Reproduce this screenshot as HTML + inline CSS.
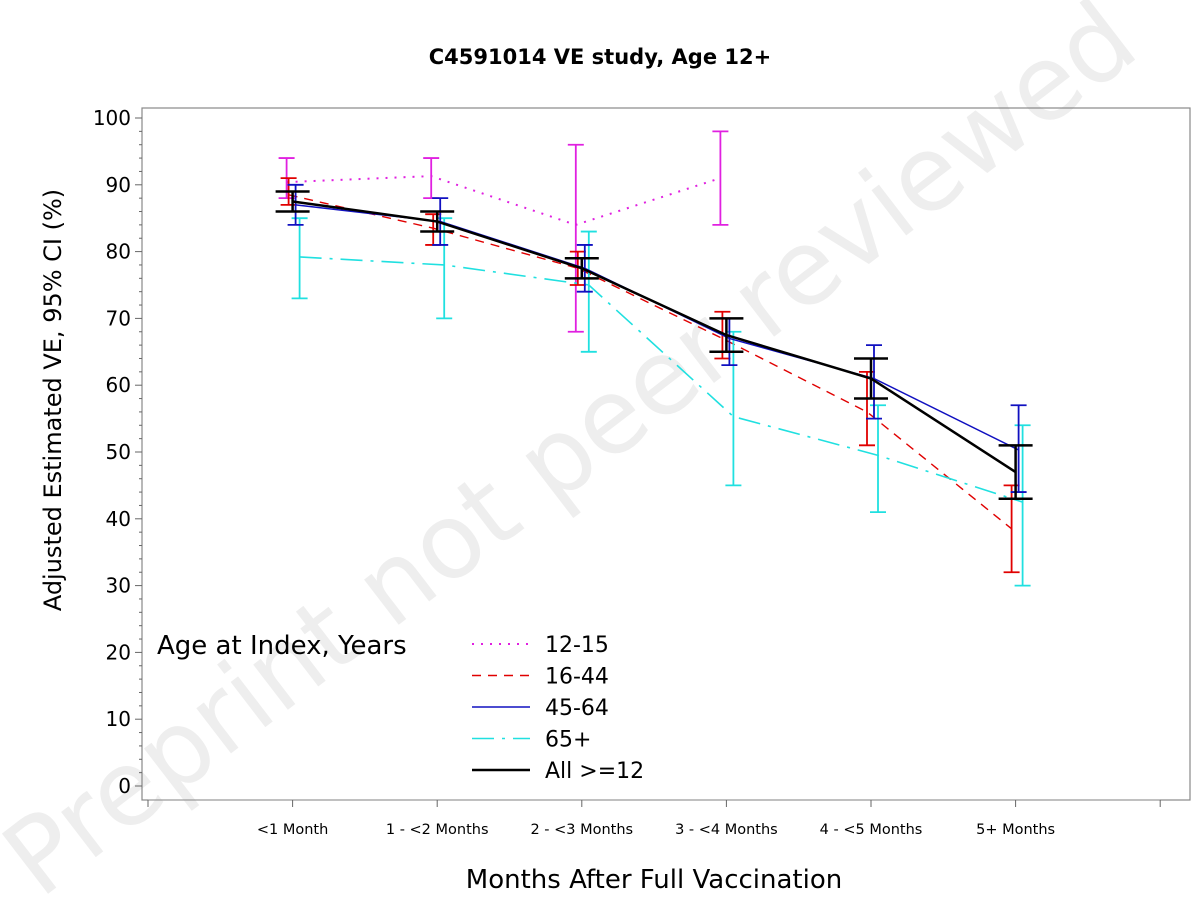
<!DOCTYPE html>
<html><head><meta charset="utf-8"><style>
body{margin:0;background:#fff;}
svg{display:block;font-family:"DejaVu Sans","Liberation Sans",sans-serif;}
</style></head><body>
<svg id="chart" width="1200" height="914" viewBox="0 0 1200 914" xmlns="http://www.w3.org/2000/svg">
<text x="0" y="0" transform="translate(40,900) rotate(-37.5)" font-size="104" fill="#eeeeee" font-family="DejaVu Sans,sans-serif">Preprint not peer reviewed</text>
<text x="600" y="64" text-anchor="middle" font-size="21" font-weight="bold">C4591014 VE study, Age 12+</text>
<rect x="142" y="108" width="1048" height="692" fill="none" stroke="#888" stroke-width="1.2"/>
<g id="yaxis"></g>
<g id="xaxis"></g>
<g id="series"></g>
<text transform="translate(61,400) rotate(-90)" text-anchor="middle" font-size="24">Adjusted Estimated VE, 95% CI (%)</text>
<text x="654" y="888" text-anchor="middle" font-size="26">Months After Full Vaccination</text>
<g>
<text x="157" y="654" font-size="26">Age at Index, Years</text>
<g id="legend-items"></g>
</g>
</svg>
<script>
const categories = ["<1 Month","1 - <2 Months","2 - <3 Months","3 - <4 Months","4 - <5 Months","5+ Months"];
const yTicks = [0,10,20,30,40,50,60,70,80,90,100];
const est1215 = [90.4,91.3,84,91];
const lo1215 = [88,88,68,84];
const hi1215 = [94,94,96,98];
const est1644 = [88.5,83.5,77.5,67,56,38.5];
const lo1644 = [87,81,75,64,51,32];
const hi1644 = [91,85.6,80,71,62,45];
const est4564 = [87,84.5,77.5,67,61,50.3];
const lo4564 = [84,81,74,63,55,44];
const hi4564 = [90,88,81,70,66,57];
const est65 = [79.2,78,75,55.3,49.5,42.5];
const lo65 = [73,70,65,45,41,30];
const hi65 = [85,85,83,68,57,54];
const estAll = [87.5,84.5,77.5,67.5,61,47];
const loAll = [86,83,76,65,58,43];
const hiAll = [89,86,79,70,64,51];

const NS="http://www.w3.org/2000/svg";
const yS = v => 786 - 6.68*v;
const xS = i => 148 + 144.6*(i+1);
function mk(tag, attrs, parent){const e=document.createElementNS(NS,tag);for(const k in attrs)e.setAttribute(k,attrs[k]);parent.appendChild(e);return e;}
const yg=document.getElementById('yaxis'), xg=document.getElementById('xaxis'), sg=document.getElementById('series');
for(let v=0; v<=100; v+=2){
  const t=mk('line',{x1:142,x2:v%10===0?135:139,y1:yS(v),y2:yS(v),stroke:'#666','stroke-width':1},yg);
  
  
}
yTicks.forEach(v=>{
  const t=mk('text',{x:131,y:yS(v)+7,'text-anchor':'end','font-size':20},yg);
  t.textContent=v;
  
  
});
mk('line',{x1:148,x2:1160,y1:800,y2:800,stroke:'#999','stroke-width':1},xg);
for(let i=-1;i<=categories.length;i++){
  const t=mk('line',{x1:xS(i),x2:xS(i),y1:800,y2:807,stroke:'#666','stroke-width':1},xg);
  
  
}
categories.forEach((c,i)=>{
  const t=mk('text',{x:xS(i),y:834,'text-anchor':'middle','font-size':14.5},xg);
  t.textContent=c;
  
  
});
const styles=[
 {label:'12-15',est:est1215,lo:lo1215,hi:hi1215,color:'#e020e0',dash:'2,7',w:2,off:-6,cap:8,name:'series-12-15'},
 {label:'16-44',est:est1644,lo:lo1644,hi:hi1644,color:'#e00000',dash:'9,7',w:1.4,off:-4,cap:8,name:'series-16-44'},
 {label:'65+',est:est65,lo:lo65,hi:hi65,color:'#20e0e0',dash:'22,8,3,8',w:1.6,off:7,cap:8,name:'series-65-plus'},
 {label:'45-64',est:est4564,lo:lo4564,hi:hi4564,color:'#1010c0',dash:'',w:1.5,off:3,cap:8,name:'series-45-64'},
 {label:'All >=12',est:estAll,lo:loAll,hi:hiAll,color:'#000',dash:'',w:2.5,off:0,cap:17,name:'series-all'}
];
styles.forEach(s=>{
  const g=mk('g',{},sg);
  
  
  s.est.forEach((v,i)=>{
    const x=xS(i)+s.off;
    const e=mk('path',{d:`M${x},${yS(s.hi[i])}V${yS(s.lo[i])}M${x-s.cap},${yS(s.hi[i])}H${x+s.cap}M${x-s.cap},${yS(s.lo[i])}H${x+s.cap}`,stroke:s.color,'stroke-width':s.w===2.5?2.5:1.8,fill:'none'},g);
    
    
  });
  const d=s.est.map((v,i)=>(i?'L':'M')+(xS(i)+s.off)+','+yS(v)).join('');
  const l=mk('path',{d:d,stroke:s.color,'stroke-width':s.w,fill:'none','stroke-dasharray':s.dash},g);
  
  
});
const lg=document.getElementById('legend-items');
const legOrder=[0,1,3,2,4];
legOrder.forEach((si,k)=>{
  const s=styles[si];
  const y=644+31.5*k;
  const ln=mk('line',{x1:472,x2:530,y1:y,y2:y,stroke:s.color,'stroke-width':s.w,'stroke-dasharray':s.dash},lg);
  
  
  const t=mk('text',{x:545,y:y+8,'font-size':22},lg);
  t.textContent=s.label;
  
  
});
</script>
</body></html>
